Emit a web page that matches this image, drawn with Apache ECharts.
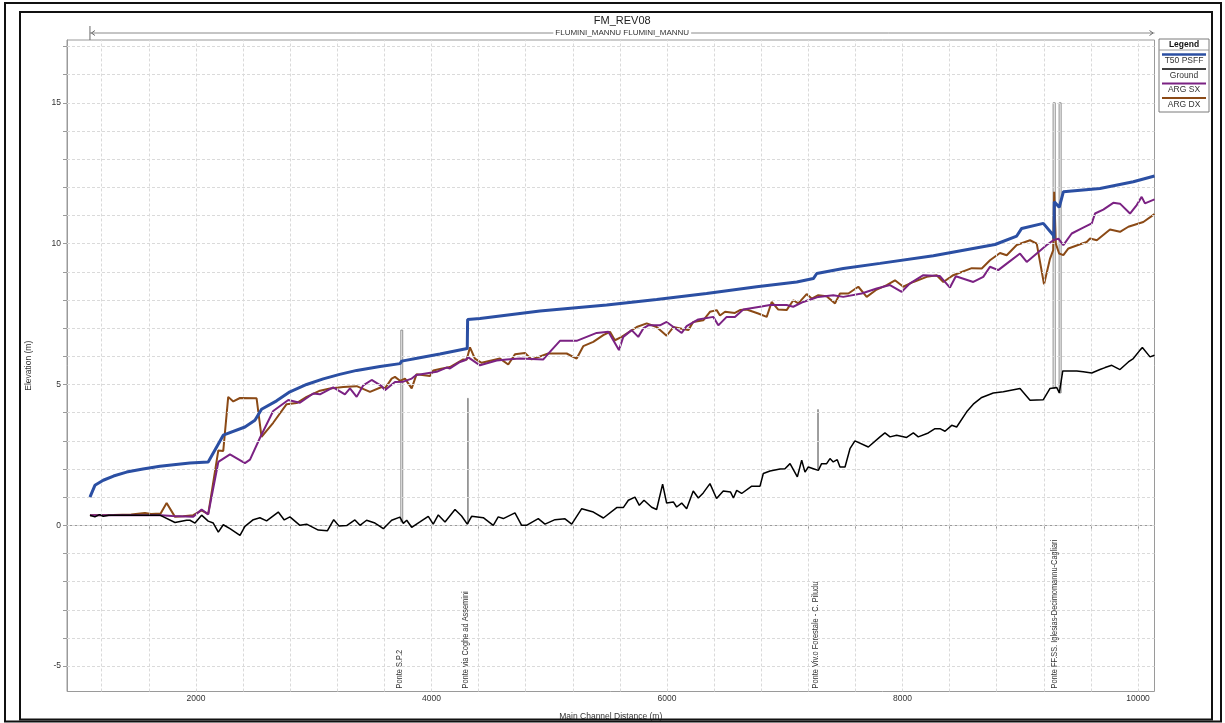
<!DOCTYPE html>
<html>
<head>
<meta charset="utf-8">
<title>FM_REV08</title>
<script src="https://cdn.jsdelivr.net/npm/echarts@6/dist/echarts.min.js"></script>
<style>
  html, body { margin: 0; padding: 0; background: #ffffff; }
  #chart { width: 1225px; height: 723px; }
</style>
</head>
<body>
<div id="chart"></div>
<script>
// ---- Profile data: [main channel distance (m), elevation (m)] ----
const profileTitle = 'FM_REV08';
const reachName = 'FLUMINI_MANNU FLUMINI_MANNU';
const legendTitle = 'Legend';
const seriesNames = ['T50 PSFF', 'Ground', 'ARG SX', 'ARG DX'];

const xTickValues = [1200, 1600, 2000, 2400, 2800, 3200, 3600, 4000, 4400, 4800, 5200, 5600,
  6000, 6400, 6800, 7200, 7600, 8000, 8400, 8800, 9200, 9600, 10000];
const xLabelValues = [2000, 4000, 6000, 8000, 10000];
const yTickValues = [-5, -4, -3, -2, -1, 0, 1, 2, 3, 4, 5, 6, 7, 8, 9, 10, 11, 12, 13, 14, 15, 16, 17];
const yLabelValues = [-5, 0, 5, 10, 15];
const xRange = [905, 10140];
const yRange = [-5.9, 17.23];

// Water surface, 50-year event
const wsT50 = [
  [1100, 1.0], [1142, 1.42], [1213, 1.6], [1300, 1.75], [1411, 1.89], [1550, 2.0], [1694, 2.1],
  [1830, 2.16], [1949, 2.21], [2104, 2.25], [2232, 3.2], [2416, 3.49], [2501, 3.73], [2557, 4.12],
  [2685, 4.42], [2798, 4.74], [2940, 5.0], [3081, 5.2], [3220, 5.36], [3365, 5.5], [3563, 5.64],
  [3733, 5.74], [3747, 5.83], [3900, 5.95], [4072, 6.08], [4304, 6.28], [4307, 7.31], [4412, 7.34],
  [4921, 7.61], [5488, 7.82], [5912, 8.02], [6336, 8.23], [6762, 8.47], [7102, 8.64], [7243, 8.76],
  [7272, 8.94], [7497, 9.12], [7809, 9.3], [8262, 9.57], [8786, 9.97], [8970, 10.27], [9012, 10.54],
  [9196, 10.72], [9281, 10.3], [9287, 10.18], [9289, 11.49], [9331, 11.29], [9366, 11.84],
  [9677, 11.96], [9960, 12.2], [10140, 12.4]
];

// Channel bed
const ground = [
  [1100, 0.36], [1142, 0.3], [1180, 0.38], [1213, 0.32], [1260, 0.36], [1400, 0.36], [1694, 0.36],
  [1822, 0.1], [1920, 0.18], [1949, 0.18], [1992, 0.08], [2048, 0.36], [2104, 0.15], [2147, 0.08],
  [2190, -0.24], [2232, 0.02], [2289, -0.12], [2374, -0.36], [2416, -0.04], [2487, 0.2], [2543, 0.27],
  [2600, 0.16], [2699, 0.47], [2750, 0.19], [2798, 0.3], [2883, 0], [2940, 0.04], [3039, -0.17],
  [3117, -0.19], [3170, 0.2], [3214, -0.02], [3280, -0.01], [3350, 0.19], [3393, 0], [3449, 0.18],
  [3520, 0.08], [3563, -0.04], [3591, -0.12], [3662, 0.18], [3732, 0.29], [3761, 0.07], [3790, 0.18],
  [3832, -0.07], [3902, 0.12], [3973, 0.32], [4015, 0.04], [4058, 0.37], [4115, 0.12], [4200, 0.56],
  [4256, 0.33], [4304, 0.04], [4341, 0.32], [4440, 0.27], [4525, 0], [4567, 0.3], [4610, 0.24],
  [4709, 0.44], [4766, 0], [4807, 0], [4907, 0.24], [4964, 0.04], [5049, 0.2], [5134, 0.23],
  [5191, 0.04], [5276, 0.59], [5375, 0.47], [5460, 0.26], [5573, 0.63], [5629, 0.63], [5672, 0.89],
  [5728, 1.0], [5765, 0.71], [5805, 0.89], [5870, 0.64], [5912, 0.56], [5963, 1.46], [5997, 0.79],
  [6054, 0.83], [6082, 0.65], [6125, 0.79], [6167, 0.59], [6223, 1.22], [6266, 0.97], [6308, 1.15],
  [6365, 1.48], [6421, 0.95], [6478, 1.22], [6540, 1.18], [6564, 0.97], [6592, 1.24], [6634, 1.13],
  [6720, 1.39], [6790, 1.39], [6818, 1.84], [6875, 1.93], [6960, 2.0], [7002, 2.01], [7045, 2.19],
  [7107, 1.72], [7144, 2.31], [7172, 1.89], [7200, 2.07], [7243, 2.01], [7285, 1.95], [7313, 2.19],
  [7356, 2.19], [7384, 2.37], [7412, 2.25], [7446, 2.33], [7469, 2.07], [7512, 2.07], [7554, 2.72],
  [7596, 3.0], [7710, 2.78], [7809, 3.14], [7851, 3.28], [7894, 3.14], [7950, 3.2], [8035, 3.12],
  [8092, 3.28], [8134, 3.14], [8219, 3.28], [8276, 3.43], [8318, 3.43], [8361, 3.34], [8418, 3.55],
  [8460, 3.49], [8545, 4.03], [8601, 4.3], [8673, 4.54], [8771, 4.7], [8856, 4.74], [8998, 4.86],
  [9083, 4.44], [9196, 4.46], [9253, 4.86], [9310, 4.89], [9332, 4.7], [9361, 5.48], [9480, 5.48],
  [9535, 5.45], [9607, 5.41], [9677, 5.53], [9720, 5.6], [9777, 5.68], [9847, 5.53], [9918, 5.8],
  [9960, 5.92], [10017, 6.22], [10037, 6.31], [10102, 5.98], [10140, 6.04]
];

// Left bank levee
const argSx = [
  [1100, 0.36], [1400, 0.36], [1700, 0.36], [1800, 0.33], [1977, 0.3], [2048, 0.56], [2104, 0.39],
  [2190, 2.25], [2289, 2.52], [2416, 2.21], [2459, 2.33], [2543, 3.1], [2656, 4.06], [2784, 4.45],
  [2883, 4.35], [2996, 4.68], [3053, 4.65], [3166, 4.9], [3265, 4.65], [3308, 4.86], [3365, 4.56],
  [3421, 4.97], [3492, 5.16], [3577, 4.94], [3605, 4.8], [3633, 4.89], [3690, 5.09], [3761, 5.1],
  [3832, 5.21], [3873, 5.34], [4044, 5.45], [4129, 5.6], [4157, 5.57], [4242, 5.8], [4285, 5.86],
  [4313, 5.96], [4412, 5.68], [4554, 5.85], [4639, 5.89], [4752, 5.92], [4950, 5.89], [5006, 6.16],
  [5091, 6.55], [5233, 6.55], [5318, 6.69], [5403, 6.83], [5502, 6.87], [5544, 6.57], [5592, 6.22],
  [5629, 6.69], [5700, 6.93], [5756, 6.69], [5799, 6.99], [5841, 7.1], [5940, 7.1], [5997, 7.22],
  [6125, 6.83], [6167, 7.07], [6266, 7.31], [6393, 7.4], [6436, 7.1], [6507, 7.4], [6577, 7.4],
  [6648, 7.66], [6790, 7.76], [6875, 7.82], [7016, 7.82], [7072, 7.76], [7157, 7.93], [7243, 8.05],
  [7285, 8.11], [7412, 8.17], [7497, 8.11], [7653, 8.23], [7781, 8.41], [7894, 8.53], [7993, 8.29],
  [8064, 8.59], [8177, 8.88], [8318, 8.85], [8403, 8.44], [8453, 8.84], [8601, 8.64], [8686, 8.82],
  [8743, 9.18], [8813, 9.06], [8913, 9.38], [8998, 9.65], [9055, 9.35], [9140, 9.65], [9225, 9.95],
  [9281, 10.12], [9324, 10.18], [9366, 9.95], [9437, 10.36], [9522, 10.54], [9607, 10.72],
  [9635, 11.07], [9705, 11.21], [9790, 11.45], [9847, 11.42], [9932, 11.07], [9989, 11.37],
  [10031, 11.66], [10059, 11.43], [10140, 11.57]
];

// Right bank levee
const argDx = [
  [1100, 0.36], [1300, 0.37], [1450, 0.38], [1567, 0.44], [1618, 0.4], [1700, 0.42], [1751, 0.79],
  [1822, 0.3], [1892, 0.32], [1977, 0.36], [2048, 0.53], [2104, 0.4], [2190, 2.66], [2232, 2.64],
  [2274, 4.56], [2317, 4.4], [2374, 4.52], [2515, 4.51], [2557, 3.14], [2656, 3.64], [2770, 4.3],
  [2855, 4.34], [2940, 4.56], [3053, 4.78], [3138, 4.86], [3251, 4.91], [3365, 4.94], [3478, 4.74],
  [3577, 4.91], [3605, 4.86], [3662, 5.21], [3690, 5.27], [3733, 5.13], [3775, 5.21], [3832, 4.86],
  [3873, 5.36], [3987, 5.3], [4015, 5.5], [4072, 5.55], [4157, 5.62], [4270, 5.89], [4299, 5.88],
  [4327, 6.32], [4369, 5.92], [4426, 5.77], [4582, 5.92], [4652, 5.71], [4709, 6.07], [4794, 6.12],
  [4851, 5.89], [4992, 6.1], [5063, 6.1], [5148, 6.1], [5233, 5.92], [5289, 6.36], [5374, 6.51],
  [5459, 6.75], [5516, 6.87], [5558, 6.57], [5615, 6.69], [5743, 7.04], [5828, 7.17], [5912, 7.04],
  [5997, 6.73], [6054, 7.04], [6181, 6.93], [6223, 7.22], [6308, 7.28], [6365, 7.58], [6422, 7.64],
  [6450, 7.45], [6493, 7.58], [6577, 7.54], [6620, 7.64], [6677, 7.66], [6775, 7.52], [6847, 7.4],
  [6889, 7.93], [6945, 7.66], [7016, 7.64], [7073, 7.99], [7115, 7.88], [7186, 8.21], [7229, 8.05],
  [7285, 8.17], [7355, 8.13], [7427, 7.88], [7469, 8.23], [7540, 8.23], [7625, 8.47], [7696, 8.11],
  [7781, 8.37], [7866, 8.53], [7936, 8.7], [8007, 8.47], [8092, 8.64], [8206, 8.82], [8290, 8.88],
  [8347, 8.64], [8431, 8.88], [8588, 9.13], [8673, 9.12], [8743, 9.41], [8828, 9.67], [8885, 9.59],
  [8970, 9.95], [9083, 10.12], [9140, 10.0], [9202, 8.56], [9253, 9.47], [9280, 9.77], [9288, 11.84],
  [9302, 10.0], [9330, 9.65], [9366, 9.59], [9409, 9.83], [9508, 9.98], [9564, 10.06], [9593, 10.18],
  [9650, 10.12], [9762, 10.5], [9847, 10.42], [9918, 10.6], [10045, 10.77], [10140, 11.05]
];

// Bridges: label station, and deck faces [upstream station, downstream station, low chord, high chord]
const bridgeNames = ['Ponte S.P.2', 'Ponte via Coghe ad Assemini', 'Ponte Viv.o Forestale - C. Piludu',
  'Ponte FF.SS. Iglesias-Decimomannu-Cagliari'];
const bridgeStations = [3749, 4310, 7283, 9312];
const bridgeFaces = [
  [3740, 3756, 0.12, 6.93],
  [4307, 4312, 0.05, 4.51],
  [7280, 7285, 1.97, 4.11],
  [9279, 9297, 4.86, 15.0],
  [9330, 9347, 4.7, 15.0]
];

// ---- Styling ----
const FONT = '"Liberation Sans", Arial, sans-serif';
const COLORS = { ws: '#2b4fa3', ground: '#000000', sx: '#7b2283', dx: '#8b4a16' };
const GRID = { left: 67, top: 40, right: 70.5, bottom: 31.5 };
const gridLineStyle = { color: '#dadada', width: 1, type: [3, 2] };

const chart = echarts.init(document.getElementById('chart'), null, { renderer: 'canvas' });

const option = {
  animation: false,
  backgroundColor: '#ffffff',
  textStyle: { fontFamily: FONT },
  grid: { left: GRID.left, top: GRID.top, right: GRID.right, bottom: GRID.bottom,
    outerBoundsMode: 'none', containLabel: false,
    show: true, borderColor: '#9a9a9a', borderWidth: 1, backgroundColor: 'transparent' },
  xAxis: {
    type: 'value', min: xRange[0], max: xRange[1],
    name: 'Main Channel Distance (m)', nameLocation: 'middle', nameGap: 21,
    nameTextStyle: { fontFamily: FONT, fontSize: 8.5, color: '#333' },
    axisLine: { show: true, lineStyle: { color: '#9a9a9a', width: 1 } },
    axisTick: { show: true, customValues: xTickValues, length: 4, lineStyle: { color: '#9a9a9a' } },
    axisLabel: { customValues: xLabelValues, fontFamily: FONT, fontSize: 8.5, color: '#333', margin: 3,
      formatter: v => String(v) },
    splitLine: { show: false }
  },
  yAxis: {
    type: 'value', min: yRange[0], max: yRange[1],
    name: 'Elevation (m)', nameLocation: 'middle', nameGap: 34, nameRotate: 90,
    nameTextStyle: { fontFamily: FONT, fontSize: 8.5, color: '#333' },
    axisLine: { show: true, lineStyle: { color: '#9a9a9a', width: 1 } },
    axisTick: { show: true, customValues: yTickValues, length: 4, lineStyle: { color: '#9a9a9a' } },
    axisLabel: { customValues: yLabelValues, fontFamily: FONT, fontSize: 8.5, color: '#333', margin: 6,
      formatter: v => String(v) },
    splitLine: { show: false }
  },
  series: [
    {
      // grid lines at every tick position
      name: 'grid', type: 'line', data: [], z: 1, silent: true,
      markLine: {
        silent: true, symbol: ['none', 'none'], label: { show: false },
        lineStyle: gridLineStyle, emphasis: { disabled: true },
        data: xTickValues.map(v => ({ xAxis: v })).concat(yTickValues.map(v => ({ yAxis: v })))
      }
    },
    {
      name: 'bridges', type: 'custom', z: 2, silent: true,
      encode: { x: [0, 1], y: [2, 3] },
      data: bridgeFaces,
      renderItem: (params, api) => {
        const tl = api.coord([api.value(0), api.value(3)]);
        const br = api.coord([api.value(1), api.value(2)]);
        return {
          type: 'rect',
          shape: { x: tl[0], y: tl[1], width: Math.max(br[0] - tl[0], 0.6), height: br[1] - tl[1] },
          style: { fill: 'none', stroke: '#8c8c8c', lineWidth: 1 }
        };
      }
    },
    {
      name: seriesNames[3], type: 'line', data: argDx, showSymbol: false, symbol: 'none', z: 3,
      lineStyle: { color: COLORS.dx, width: 2 }, itemStyle: { color: COLORS.dx }
    },
    {
      name: seriesNames[2], type: 'line', data: argSx, showSymbol: false, symbol: 'none', z: 4,
      lineStyle: { color: COLORS.sx, width: 2 }, itemStyle: { color: COLORS.sx }
    },
    {
      name: seriesNames[1], type: 'line', data: ground, showSymbol: false, symbol: 'none', z: 5,
      lineStyle: { color: COLORS.ground, width: 1.5 }, itemStyle: { color: COLORS.ground }
    },
    {
      name: seriesNames[0], type: 'line', data: wsT50, showSymbol: false, symbol: 'none', z: 6,
      lineStyle: { color: COLORS.ws, width: 3 }, itemStyle: { color: COLORS.ws }
    },
    {
      name: 'bridge labels', type: 'custom', z: 7, silent: true,
      encode: { x: 0 },
      data: bridgeStations.map(s => [s]),
      renderItem: (params, api) => {
        const p = api.coord([api.value(0), yRange[0]]);
        return {
          type: 'text', x: p[0] - 3, y: p[1] - 3, rotation: Math.PI / 2, scaleX: 0.78,
          style: { text: bridgeNames[params.dataIndex], fontFamily: FONT, fontSize: 9.5,
            fill: '#333', align: 'left', verticalAlign: 'middle' }
        };
      }
    }
  ]
};

chart.setOption(option);

// ---- Frame, title, reach bracket and legend ----
const reachStart = wsT50[0][0];
const reachEnd = wsT50[wsT50.length - 1][0];
const xa = chart.convertToPixel({ xAxisIndex: 0 }, reachStart);
const xb = chart.convertToPixel({ xAxisIndex: 0 }, reachEnd);
const midX = (xa + xb) / 2;
const bracketY = 33;

const legendBox = { x: 1159, y: 39, w: 50, h: 73 };
const legendEntries = [
  { name: seriesNames[0], color: COLORS.ws, width: 2.5 },
  { name: seriesNames[1], color: COLORS.ground, width: 1.5 },
  { name: seriesNames[2], color: COLORS.sx, width: 2 },
  { name: seriesNames[3], color: COLORS.dx, width: 2 }
];
const legendChildren = [
  { type: 'rect', shape: { x: 0, y: 0, width: legendBox.w, height: legendBox.h },
    style: { fill: '#fff', stroke: '#7a7a7a', lineWidth: 1 } },
  { type: 'text', x: legendBox.w / 2, y: 6,
    style: { text: legendTitle, fontFamily: FONT, fontSize: 8.5, fontWeight: 'bold', fill: '#111',
      align: 'center', verticalAlign: 'middle' } },
  { type: 'line', shape: { x1: 0, y1: 11, x2: legendBox.w, y2: 11 },
    style: { stroke: '#9a9a9a', lineWidth: 1 } }
];
legendEntries.forEach((e, i) => {
  const y0 = 15.5 + i * 14.5;
  legendChildren.push({ type: 'line', shape: { x1: 3, y1: y0, x2: legendBox.w - 3, y2: y0 },
    style: { stroke: e.color, lineWidth: e.width } });
  legendChildren.push({ type: 'text', x: legendBox.w / 2, y: y0 + 6.5,
    style: { text: e.name, fontFamily: FONT, fontSize: 8.5, fill: '#333',
      align: 'center', verticalAlign: 'middle' } });
});

chart.setOption({
  graphic: [
    // outer frames
    { type: 'rect', shape: { x: 5, y: 3, width: 1216, height: 718.5 },
      style: { fill: 'none', stroke: '#111', lineWidth: 2 }, z: 100 },
    { type: 'rect', shape: { x: 20, y: 12, width: 1192, height: 707.5 },
      style: { fill: 'none', stroke: '#111', lineWidth: 2 }, z: 100 },
    // profile title
    { type: 'text', x: midX, y: 21,
      style: { text: profileTitle, fontFamily: FONT, fontSize: 11, fill: '#222',
        align: 'center', verticalAlign: 'middle' }, z: 100 },
    // reach extent bracket
    { type: 'line', shape: { x1: xa, y1: bracketY, x2: xb, y2: bracketY },
      style: { stroke: '#8a8a8a', lineWidth: 1 }, z: 100 },
    { type: 'line', shape: { x1: xa, y1: 26, x2: xa, y2: 40 },
      style: { stroke: '#6a6a6a', lineWidth: 1 }, z: 100 },
    { type: 'polyline', shape: { points: [[xa + 5, bracketY - 2.5], [xa + 1.5, bracketY], [xa + 5, bracketY + 2.5]] },
      style: { stroke: '#6a6a6a', fill: 'none', lineWidth: 1 }, z: 100 },
    { type: 'polyline', shape: { points: [[xb - 5, bracketY - 2.5], [xb - 1.5, bracketY], [xb - 5, bracketY + 2.5]] },
      style: { stroke: '#6a6a6a', fill: 'none', lineWidth: 1 }, z: 100 },
    { type: 'text', x: midX, y: bracketY,
      style: { text: reachName, fontFamily: FONT, fontSize: 8, fill: '#333',
        align: 'center', verticalAlign: 'middle', backgroundColor: '#fff', padding: [0, 2] }, z: 101 },
    // legend
    { type: 'group', x: legendBox.x, y: legendBox.y, children: legendChildren, z: 100 }
  ]
});
</script>
</body>
</html>
